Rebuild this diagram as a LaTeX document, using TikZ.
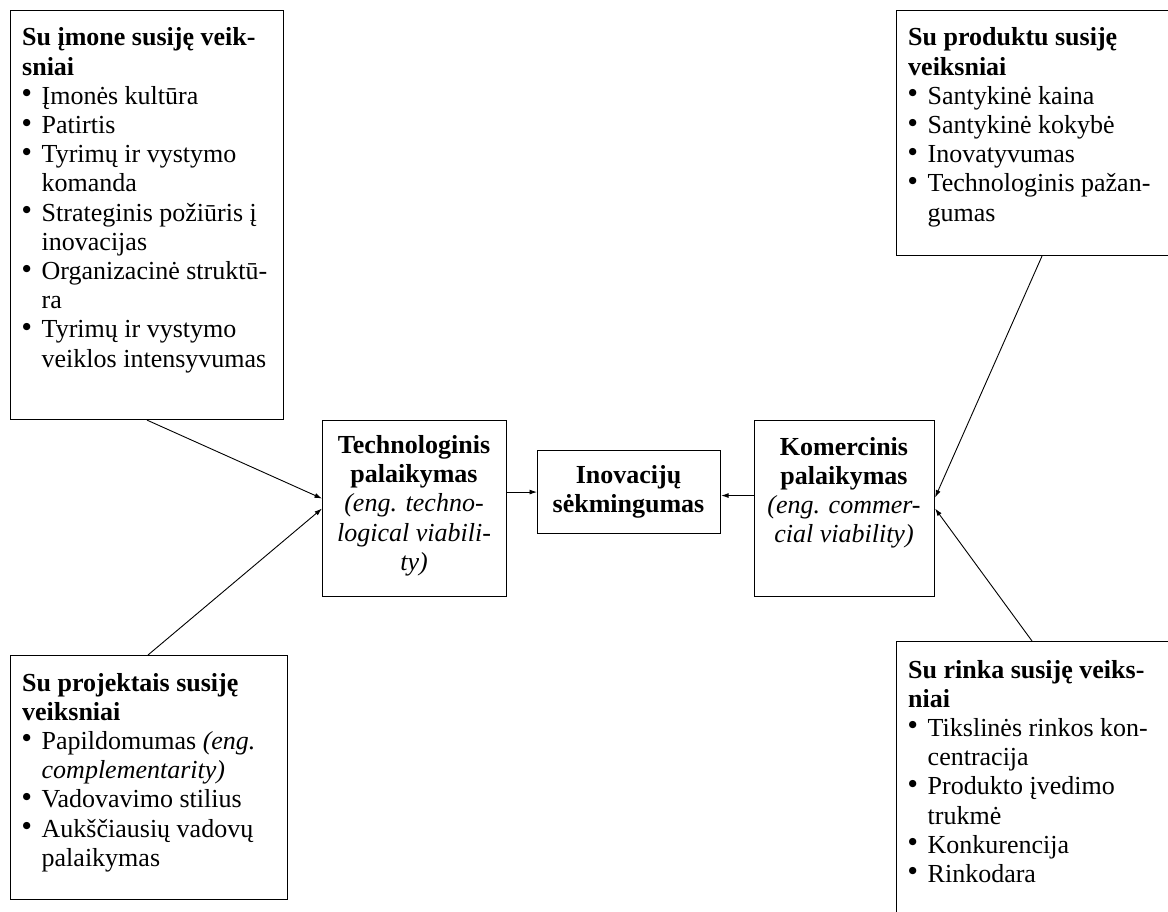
\documentclass[tikz,border=0pt]{standalone}
\usepackage{fontspec}
\setmainfont{Liberation Serif}
\newfontfamily\dotfont{DejaVu Sans}
\usetikzlibrary{arrows.meta}

% bullet with a hanging indent, and the matching indent for wrapped lines
\newcommand{\bulmark}{\makebox[19.5pt][l]{\hspace{0.5pt}\raisebox{8.5pt}{\dotfont\fontsize{9.5}{9.5}\selectfont ●}}}
\newcommand{\hangline}{\hspace*{19.5pt}}

\begin{document}
\begin{tikzpicture}[x=1pt,y=-1pt,
  box/.style={draw=black, line width=1.1pt, rectangle, inner sep=0pt, anchor=north west},
  txt/.style={inner sep=0pt, font=\fontsize{26}{29.2}\selectfont},
  arr/.style={draw=black, line width=0.9pt, -{Latex[length=7.5pt,width=5pt]}}
]
\useasboundingbox (0,0) rectangle (1168,912);
\clip (0,0) rectangle (1168,912);

% factor boxes
\node[box, minimum width=273pt, minimum height=409pt] (firm) at (10,10) {};
\node[box, minimum width=290pt, minimum height=245pt] (prod) at (896,10) {};
\node[box, minimum width=277pt, minimum height=244pt] (proj) at (10,655) {};
\node[box, minimum width=290pt, minimum height=290pt] (mark) at (896,641) {};

% central boxes
\node[box, minimum width=184pt, minimum height=176pt] (tech) at (322,420) {};
\node[box, minimum width=183pt, minimum height=83pt] (succ) at (537,450) {};
\node[box, minimum width=180pt, minimum height=176pt] (comm) at (754,420) {};

% texts of the factor boxes
\node[txt, anchor=base west] (firmtxt) at (22,46) {\parbox[t]{300pt}{\raggedright
  {\bfseries Su įmone susiję veik-\\ sniai}\\
  \bulmark Įmonės kultūra\\
  \bulmark Patirtis\\
  \bulmark Tyrimų ir vystymo\\
  \hangline komanda\\
  \bulmark Strateginis požiūris į\\
  \hangline inovacijas\\
  \bulmark Organizacinė struktū-\\
  \hangline ra\\
  \bulmark Tyrimų ir vystymo\\
  \hangline veiklos intensyvumas}};

\node[txt, anchor=base west] (prodtxt) at (908,46) {\parbox[t]{300pt}{\raggedright
  {\bfseries Su produktu susiję\\ veiksniai}\\
  \bulmark Santykinė kaina\\
  \bulmark Santykinė kokybė\\
  \bulmark Inovatyvumas\\
  \bulmark Technologinis pažan-\\
  \hangline gumas}};

\node[txt, anchor=base west] (projtxt) at (22,691) {\parbox[t]{300pt}{\raggedright
  {\bfseries Su projektais susiję\\ veiksniai}\\
  \bulmark Papildomumas \textit{(eng.}\\
  \hangline\textit{complementarity)}\\
  \bulmark Vadovavimo stilius\\
  \bulmark Aukščiausių vadovų\\
  \hangline palaikymas}};

\node[txt, anchor=base west] (marktxt) at (908,678) {\parbox[t]{300pt}{\raggedright
  {\bfseries Su rinka susiję veiks-\\ niai}\\
  \bulmark Tikslinės rinkos kon-\\
  \hangline centracija\\
  \bulmark Produkto įvedimo\\
  \hangline trukmė\\
  \bulmark Konkurencija\\
  \bulmark Rinkodara}};

% texts of the central boxes
\node[txt, anchor=base] (techtxt) at (414,453.5) {\parbox[t]{200pt}{\centering
  {\bfseries Technologinis\\ palaikymas}\\
  {\itshape (eng. techno-\\ logical viabili-\\ ty)}}};

\node[txt, anchor=base] (succtxt) at (628.5,483.5) {\parbox[t]{200pt}{\centering
  \bfseries Inovacijų\\ sėkmingumas}};

\node[txt, anchor=base] (commtxt) at (844,455) {\parbox[t]{200pt}{\centering
  {\bfseries Komercinis\\ palaikymas}\\
  {\itshape (eng. commer-\\ cial viability)}}};

% connectors
\draw[arr] ([xshift=137pt]firm.south west) -- ([yshift=10pt]tech.west);
\draw[arr] ([xshift=138pt]proj.north west) -- (tech.west);
\draw[arr] (tech.east |- succ.west) -- (succ.west);
\draw[arr] ([yshift=13pt]comm.west) -- ([yshift=-3.5pt]succ.east);
\draw[arr] ([xshift=146pt]prod.south west) -- ([yshift=11pt]comm.east);
\draw[arr] ([xshift=136pt]mark.north west) -- (comm.east);
\end{tikzpicture}
\end{document}
